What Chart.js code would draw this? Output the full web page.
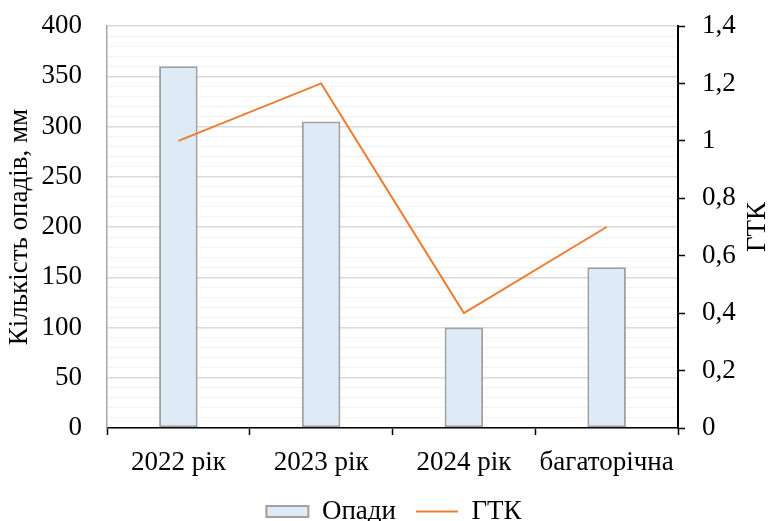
<!DOCTYPE html>
<html>
<head>
<meta charset="utf-8">
<script src="https://cdn.jsdelivr.net/npm/chart.js@4/dist/chart.umd.min.js"></script>
<style>
  html, body { margin: 0; padding: 0; background: #ffffff; }
  #wrap { width: 770px; height: 521px; }
</style>
</head>
<body>
<div id="wrap"><canvas id="chart" width="770" height="521"></canvas></div>
<script>
// Опади та ГТК за роками
const categories = ['2022 рік', '2023 рік', '2024 рік', 'багаторічна'];
const precipitation = [360, 305, 100, 160];   // мм
const gtk = [1.0, 1.2, 0.4, 0.7];             // гідротермічний коефіцієнт
const precipTicks = { min: 0, max: 400, major: 50, minor: 10 };
const gtkTicks = { min: 0, max: 1.4, step: 0.2 };

const FONT_FAMILY = '"Liberation Serif", "Times New Roman", serif';
const FONT_SIZE = 27;

// Right-hand axis title, written bottom-to-top like the left one
const rightTitlePlugin = {
  id: 'rightTitle',
  afterDraw(chart, args, opts) {
    const s = chart.scales.y1;
    const ctx = chart.ctx;
    ctx.save();
    ctx.font = FONT_SIZE + 'px ' + FONT_FAMILY;
    ctx.fillStyle = '#000000';
    ctx.textAlign = 'center';
    ctx.textBaseline = 'middle';
    ctx.translate(s.right - opts.inset, (s.top + s.bottom) / 2);
    ctx.rotate(-Math.PI / 2);
    ctx.fillText(opts.text, 0, 0);
    ctx.restore();
  }
};

// Nudge the legend row a little to the right of centre
const legendShiftPlugin = {
  id: 'legendShift',
  afterLayout(chart, args, opts) {
    if (chart.legend) {
      chart.legend.left += opts.dx;
      chart.legend.right += opts.dx;
    }
  }
};

const fmtComma = v => String(Number(v.toFixed(1))).replace('.', ',');
const isMajor = v => v % precipTicks.major === 0;

// Fixed axis widths, no extra space above/below the value axes
const fitValueAxis = width => s => {
  s.width = width;
  s.paddingTop = 0;
  s.paddingBottom = 0;
};

new Chart(document.getElementById('chart'), {
  data: {
    labels: categories,
    datasets: [
      {
        type: 'bar',
        label: 'Опади',
        data: precipitation,
        yAxisID: 'y',
        backgroundColor: '#deeaf6',
        borderColor: '#a0a0a0',
        borderWidth: 2,
        borderSkipped: false,
        barPercentage: 0.27,
        categoryPercentage: 1.0,
        pointStyle: 'rect',
        order: 2
      },
      {
        type: 'line',
        label: 'ГТК',
        data: gtk,
        yAxisID: 'y1',
        borderColor: '#ed7d31',
        backgroundColor: '#ed7d31',
        borderWidth: 2,
        pointRadius: 0,
        tension: 0,
        pointStyle: 'line',
        order: 1
      }
    ]
  },
  options: {
    responsive: false,
    animation: false,
    devicePixelRatio: 1,
    layout: { padding: { left: 0, right: 0, top: 26, bottom: -14 } },
    font: { family: FONT_FAMILY, size: FONT_SIZE },
    plugins: {
      tooltip: { enabled: false },
      rightTitle: { text: 'ГТК', inset: 12 },
      legendShift: { dx: 9 },
      legend: {
        position: 'bottom',
        labels: {
          usePointStyle: true,
          pointStyleWidth: 42,
          boxHeight: 11,
          padding: 20,
          color: '#000000',
          font: { family: FONT_FAMILY, size: FONT_SIZE },
          sort: (a, b) => a.datasetIndex - b.datasetIndex
        }
      }
    },
    scales: {
      x: {
        afterFit: s => { s.height = 50; },
        grid: {
          display: true,
          drawOnChartArea: false,
          drawTicks: true,
          tickLength: 7,
          tickColor: '#000000',
          tickWidth: 1.5
        },
        border: { color: '#000000', width: 1.5 },
        ticks: {
          color: '#000000',
          padding: 12,
          autoSkip: false,
          maxRotation: 0,
          font: { family: FONT_FAMILY, size: FONT_SIZE }
        }
      },
      y: {
        position: 'left',
        min: precipTicks.min,
        max: precipTicks.max,
        afterFit: fitValueAxis(107),
        border: { color: '#a6a6a6', width: 1.5 },
        grid: {
          drawTicks: false,
          color: ctx => (ctx.tick && isMajor(ctx.tick.value)) ? '#d9d9d9' : '#f2f2f2',
          lineWidth: ctx => (ctx.tick && isMajor(ctx.tick.value)) ? 1.5 : 1
        },
        ticks: {
          stepSize: precipTicks.minor,
          autoSkip: false,
          padding: 25,
          color: '#000000',
          font: { family: FONT_FAMILY, size: FONT_SIZE },
          callback: v => isMajor(v) ? String(v) : ''
        },
        title: {
          display: true,
          text: 'Кількість опадів, мм',
          color: '#000000',
          padding: { top: 4, bottom: 4 },
          font: { family: FONT_FAMILY, size: FONT_SIZE }
        }
      },
      y1: {
        position: 'right',
        min: gtkTicks.min,
        max: gtkTicks.max,
        afterFit: fitValueAxis(92),
        border: { color: '#000000', width: 2 },
        grid: {
          drawOnChartArea: false,
          drawTicks: true,
          tickLength: 7,
          tickColor: '#000000',
          tickWidth: 1.5
        },
        ticks: {
          stepSize: gtkTicks.step,
          padding: 17,
          color: '#000000',
          font: { family: FONT_FAMILY, size: FONT_SIZE },
          callback: v => fmtComma(v)
        }
      }
    }
  },
  plugins: [rightTitlePlugin, legendShiftPlugin]
});
</script>
</body>
</html>
